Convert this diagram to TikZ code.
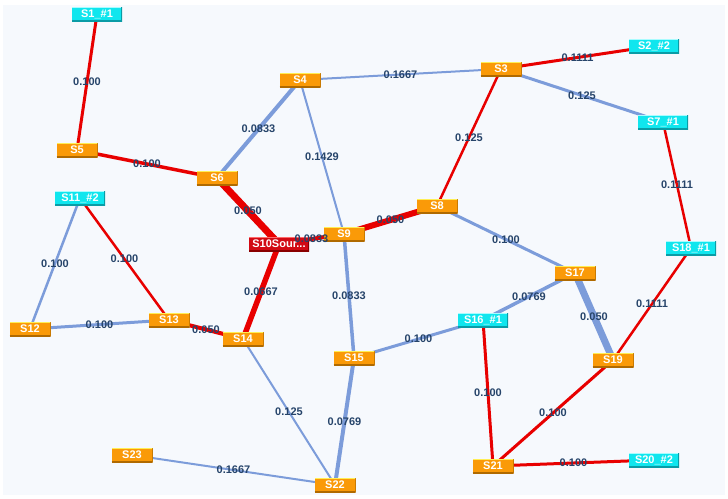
\documentclass[tikz,border=0pt]{standalone}
\usepackage{fontspec}
\setmainfont{Liberation Sans}
\usetikzlibrary{calc}

\definecolor{canvas}{HTML}{F6F9FD}
\definecolor{nodeorange}{HTML}{FA9A08}
\definecolor{orangetop}{HTML}{FFEE55}
\definecolor{orangeedge}{HTML}{B06A00}
\definecolor{nodecyan}{HTML}{10E6EE}
\definecolor{cyantop}{HTML}{A8FCFF}
\definecolor{cyanedge}{HTML}{0A9CA6}
\definecolor{nodered}{HTML}{D20A14}
\definecolor{redtop}{HTML}{FF6A6A}
\definecolor{rededge}{HTML}{8A0000}
\definecolor{linkred}{HTML}{E80000}
\definecolor{linkblue}{HTML}{7C9CDA}
\definecolor{labeltext}{HTML}{26446A}

\pgfdeclarelayer{backdrop}
\pgfdeclarelayer{links}
\pgfsetlayers{backdrop,links,main}

\tikzset{
  bevel/.style n args={3}{
    fill=#1, draw=none, inner sep=0pt, minimum height=14pt,
    text=white, font=\bfseries\fontsize{11}{12}\selectfont,
    path picture={
      \draw[#2, line width=1.6pt]
        (path picture bounding box.north west) -- (path picture bounding box.north east);
      \draw[#3, line width=1.6pt]
        (path picture bounding box.south west) -- (path picture bounding box.south east)
        -- (path picture bounding box.north east);
    }
  },
  station/.style={bevel={nodeorange}{orangetop}{orangeedge}, minimum width=41pt},
  sink/.style={bevel={nodecyan}{cyantop}{cyanedge}, minimum width=50pt},
  source/.style={bevel={nodered}{redtop}{rededge}, minimum width=60pt},
  wt/.style={midway, text=labeltext, inner sep=0pt, font=\bfseries\fontsize{11}{12}\selectfont},
  hot/.style={draw=linkred, line width=#1},
  cool/.style={draw=linkblue, line width=#1},
}

% link between two stations: the line goes under the boxes, its weight on top
\newcommand\wlink[4]{%
  \begin{pgfonlayer}{links}
    \path[#1] (#2.center) -- (#3.center);
  \end{pgfonlayer}
  \path (#2.center) -- node[wt] {#4} (#3.center);
}

\begin{document}
\begin{tikzpicture}[x=1pt, y=-1pt]
  % page and canvas
  \useasboundingbox (0,0) rectangle (728,498);
  \begin{pgfonlayer}{backdrop}
    \fill[white] (0,0) rectangle (728,498);
    \fill[canvas] (3,5) rectangle (725,495);
  \end{pgfonlayer}

  % stations
  \node[sink]    (s1)  at (97,14)   {S1\_\#1};
  \node[sink]    (s2)  at (654,46)  {S2\_\#2};
  \node[station] (s3)  at (501,69)  {S3};
  \node[station] (s4)  at (300,80)  {S4};
  \node[station] (s5)  at (77,150)  {S5};
  \node[station] (s6)  at (217,178) {S6};
  \node[sink]    (s7)  at (663,122) {S7\_\#1};
  \node[station] (s8)  at (437,206) {S8};
  \node[station] (s9)  at (344,234) {S9};
  \node[source]  (s10) at (279,244) {S10Sour...};
  \node[sink]    (s11) at (80,198)  {S11\_\#2};
  \node[station] (s12) at (30,329)  {S12};
  \node[station] (s13) at (169,320) {S13};
  \node[station] (s14) at (243,339) {S14};
  \node[station] (s15) at (354,358) {S15};
  \node[sink]    (s16) at (483,320) {S16\_\#1};
  \node[station] (s17) at (575,273) {S17};
  \node[sink]    (s18) at (691,248) {S18\_\#1};
  \node[station] (s19) at (613,360) {S19};
  \node[sink]    (s20) at (654,460) {S20\_\#2};
  \node[station] (s21) at (493,466) {S21};
  \node[station] (s22) at (335,485) {S22};
  \node[station] (s23) at (132,455) {S23};

  % weighted links
  \wlink{hot=3pt}{s1}{s5}{0.100}
  \wlink{hot=3.5pt}{s5}{s6}{0.100}
  \wlink{cool=4pt}{s6}{s4}{0.0833}
  \wlink{hot=7pt}{s6}{s10}{0.050}
  \wlink{cool=2pt}{s4}{s3}{0.1667}
  \wlink{cool=2pt}{s4}{s9}{0.1429}
  \wlink{hot=3pt}{s3}{s2}{0.1111}
  \wlink{cool=3pt}{s3}{s7}{0.125}
  \wlink{hot=2.5pt}{s3}{s8}{0.125}
  \wlink{hot=6pt}{s8}{s9}{0.050}
  \wlink{hot=4pt}{s9}{s10}{0.0833}
  \wlink{hot=5.5pt}{s10}{s14}{0.0667}
  \wlink{cool=3.5pt}{s9}{s15}{0.0833}
  \wlink{cool=3pt}{s8}{s17}{0.100}
  \wlink{cool=2.5pt}{s11}{s12}{0.100}
  \wlink{hot=2.5pt}{s11}{s13}{0.100}
  \wlink{cool=3pt}{s12}{s13}{0.100}
  \wlink{hot=4pt}{s13}{s14}{0.050}
  \wlink{cool=2pt}{s14}{s22}{0.125}
  \wlink{cool=3pt}{s15}{s16}{0.100}
  \wlink{cool=4pt}{s15}{s22}{0.0769}
  \wlink{cool=3.5pt}{s16}{s17}{0.0769}
  \wlink{cool=7pt}{s17}{s19}{0.050}
  \wlink{hot=2.5pt}{s7}{s18}{0.1111}
  \wlink{hot=2.5pt}{s18}{s19}{0.1111}
  \wlink{hot=3pt}{s16}{s21}{0.100}
  \wlink{hot=3pt}{s19}{s21}{0.100}
  \wlink{hot=3pt}{s21}{s20}{0.100}
  \wlink{cool=2pt}{s23}{s22}{0.1667}
\end{tikzpicture}
\end{document}
